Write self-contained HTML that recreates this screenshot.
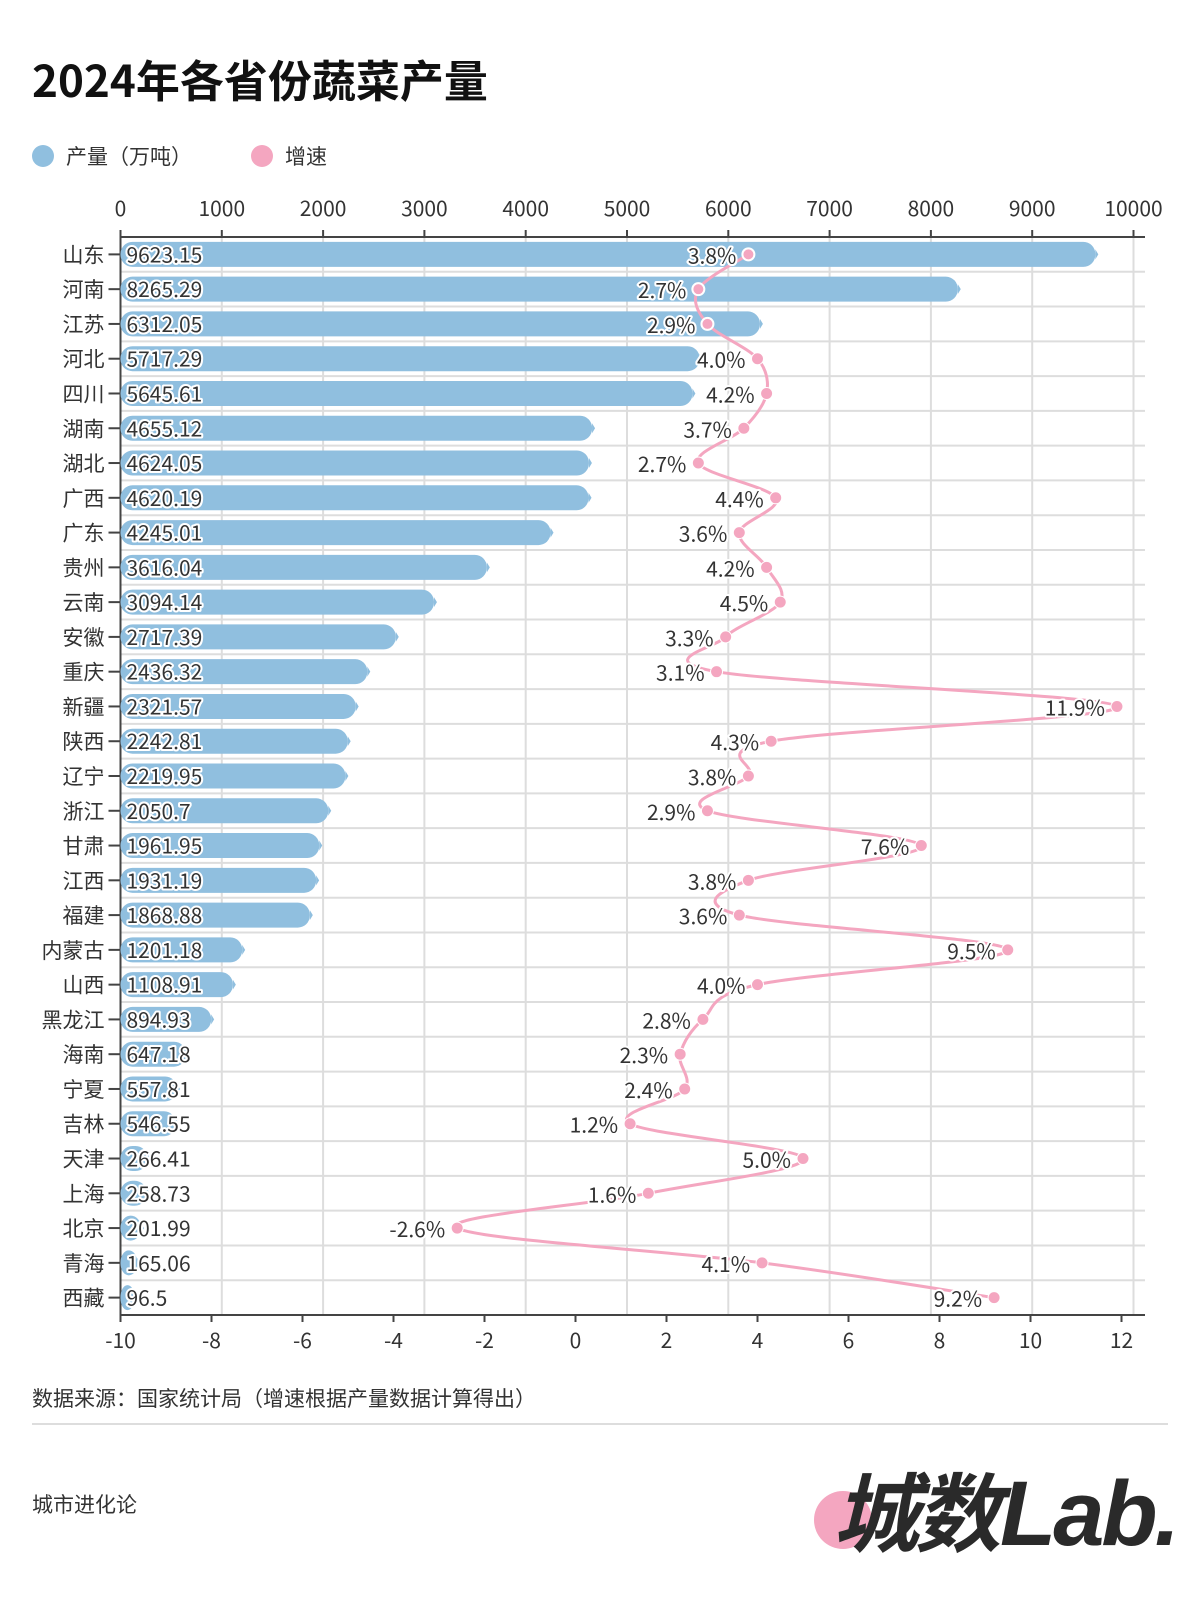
<!DOCTYPE html>
<html><head><meta charset="utf-8"><style>
body{margin:0;background:#fff;}
svg{display:block;font-family:"Noto Sans CJK SC","Liberation Sans",sans-serif;}
.h{paint-order:stroke;stroke:#fff;stroke-width:4px;stroke-linejoin:round;}
</style></head><body>
<svg id="s" width="1200" height="1600" xmlns="http://www.w3.org/2000/svg"></svg>
<script>
const D=[["山东",9623.15,3.8],["河南",8265.29,2.7],["江苏",6312.05,2.9],["河北",5717.29,4.0],["四川",5645.61,4.2],["湖南",4655.12,3.7],["湖北",4624.05,2.7],["广西",4620.19,4.4],["广东",4245.01,3.6],["贵州",3616.04,4.2],["云南",3094.14,4.5],["安徽",2717.39,3.3],["重庆",2436.32,3.1],["新疆",2321.57,11.9],["陕西",2242.81,4.3],["辽宁",2219.95,3.8],["浙江",2050.7,2.9],["甘肃",1961.95,7.6],["江西",1931.19,3.8],["福建",1868.88,3.6],["内蒙古",1201.18,9.5],["山西",1108.91,4.0],["黑龙江",894.93,2.8],["海南",647.18,2.3],["宁夏",557.81,2.4],["吉林",546.55,1.2],["天津",266.41,5.0],["上海",258.73,1.6],["北京",201.99,-2.6],["青海",165.06,4.1],["西藏",96.5,9.2]];
const X0=120.5,T=237,B=1315,RH=(B-T)/31;
const bx=v=>X0+v*0.1013, gx=v=>X0+(v+10)*45.5, cy=i=>T+RH/2+i*RH;
let s=`<text x="32" y="97" font-size="44" font-weight="bold" fill="#111">2024年各省份蔬菜产量</text>
<circle cx="43" cy="156" r="11" fill="#90bfdf"/><text x="66" y="164" font-size="21" fill="#333">产量（万吨）</text>
<circle cx="262" cy="156" r="11" fill="#f4a6c0"/><text x="285" y="164" font-size="21" fill="#333">增速</text>`;
for(let k=0;k<=10;k++){let x=bx(k*1000);s+=`<line x1="${x}" y1="${T}" x2="${x}" y2="${B}" stroke="#ddd" stroke-width="2"/><line x1="${x}" y1="${T}" x2="${x}" y2="${T-7}" stroke="#444" stroke-width="2"/><text x="${x}" y="216" font-size="21" fill="#333" text-anchor="middle">${k*1000}</text>`;}
for(let i=1;i<31;i++){let y=T+i*RH;s+=`<line x1="${X0}" y1="${y}" x2="1145" y2="${y}" stroke="#ddd" stroke-width="2"/>`;}
s+=`<line x1="${X0}" y1="${T}" x2="1145" y2="${T}" stroke="#444" stroke-width="2"/><line x1="${X0}" y1="${B}" x2="1145" y2="${B}" stroke="#444" stroke-width="2"/><line x1="${X0}" y1="${T}" x2="${X0}" y2="${B}" stroke="#444" stroke-width="2"/>`;
for(let k=-10;k<=12;k+=2){let x=gx(k);s+=`<line x1="${x}" y1="${B}" x2="${x}" y2="${B+7}" stroke="#444" stroke-width="2"/><text x="${x}" y="${B+33}" font-size="21" fill="#333" text-anchor="middle">${k}</text>`;}
D.forEach((d,i)=>{let y=cy(i),x=bx(d[1]),w=Math.max(x-X0,14);
s+=`<rect x="${X0}" y="${y-12.5}" width="${w}" height="25" rx="12" fill="#90bfdf"/><path d="M${X0+w} ${y-5}L${X0+w+3} ${y}L${X0+w} ${y+5}Z" fill="#90bfdf"/>`;
s+=`<line x1="${X0-12}" y1="${y}" x2="${X0}" y2="${y}" stroke="#444" stroke-width="2"/><text x="${X0-16}" y="${y+8}" font-size="21" fill="#333" text-anchor="end">${d[0]}</text>`;
s+=`<text class="h" x="${X0+6}" y="${y+8}" font-size="21" fill="#333">${d[1]}</text>`;});
const P=D.map((d,i)=>[gx(d[2]),cy(i)]);
let p=`M${P[0][0]} ${P[0][1]}`;
for(let i=0;i<P.length-1;i++){let a=P[i-1]||P[i],b=P[i],c=P[i+1],e=P[i+2]||c;
p+=`C${b[0]+(c[0]-a[0])/6} ${b[1]+(c[1]-a[1])/6} ${c[0]-(e[0]-b[0])/6} ${c[1]-(e[1]-b[1])/6} ${c[0]} ${c[1]}`;}
s+=`<path d="${p}" fill="none" stroke="#f4a6c0" stroke-width="3"/>`;
D.forEach((d,i)=>{let [x,y]=P[i];s+=`<circle cx="${x}" cy="${y}" r="6" fill="#f4a6c0" stroke="#fff" stroke-width="${i<3?2:1}"/><text class="h" x="${x-12}" y="${y+9}" font-size="21" fill="#333" text-anchor="end">${d[2].toFixed(1)}%</text>`;});
s+=`<text x="32" y="1406" font-size="21" fill="#333">数据来源：国家统计局（增速根据产量数据计算得出）</text>
<line x1="32" y1="1424" x2="1168" y2="1424" stroke="#ddd" stroke-width="2"/>
<text x="32" y="1512" font-size="21" fill="#333">城市进化论</text>
<circle cx="843" cy="1520" r="29" fill="#f4a6c0"/>
<text x="833" y="1545" font-size="86" font-weight="bold" fill="#2a2a2a" font-style="italic" letter-spacing="-4">城数</text>
<text x="1000" y="1545" font-size="92" font-weight="bold" fill="#2a2a2a" font-style="italic" letter-spacing="-3" font-family="Liberation Sans">Lab.</text>`;
document.getElementById('s').innerHTML=s;
</script>
</body></html>
